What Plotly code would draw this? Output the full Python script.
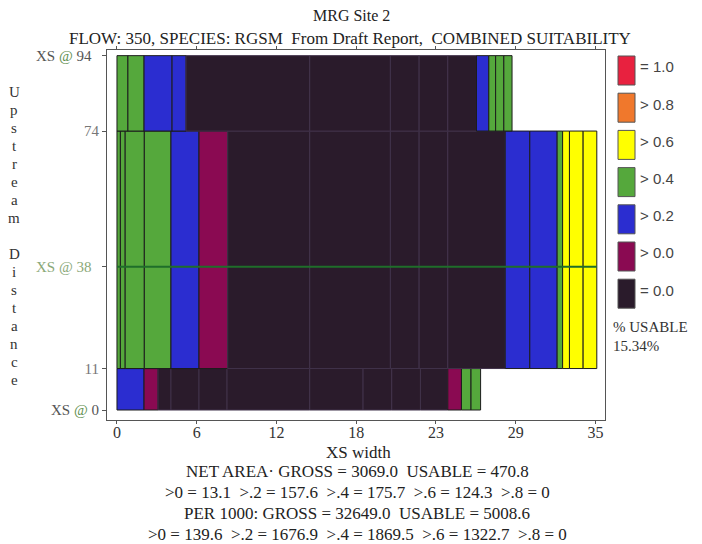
import plotly.graph_objects as go

# Suitability classes and their fill colours
classes = ["=1.0", ">0.8", ">0.6", ">0.4", ">0.2", ">0.0", "=0.0"]
class_colors = {
    "=1.0": "#e8213f",
    ">0.8": "#f0782c",
    ">0.6": "#ffff00",
    ">0.4": "#55a83c",
    ">0.2": "#2b2dd0",
    ">0.0": "#8a0a52",
    "=0.0": "#2a1b2b",
}
legend_labels = ["= 1.0", "> 0.8", "> 0.6", "> 0.4", "> 0.2", "> 0.0", "= 0.0"]

# Upstream bands (distance from, to)
bottom_band = (0, 11)
middle_band = (11, 74)
top_band = (74, 94)

# Cell edges across the cross-section width for each band, with the class of each cell
bottom_edges = [0, 1.98, 3.0, 3.95, 6.0, 8.05, 14.1, 18.0, 20.1, 22.2, 24.2, 25.2, 25.9, 26.6]
bottom_class = [">0.2", ">0.0", "=0.0", "=0.0", "=0.0", "=0.0", "=0.0", "=0.0", "=0.0",
                "=0.0", ">0.0", ">0.4", ">0.4"]

middle_edges = [0, 0.25, 0.6, 2.0, 3.95, 6.0, 8.1, 14.1, 20.0, 22.1, 24.2, 28.4, 30.2,
                32.2, 32.6, 33.1, 34.1, 35.1]
middle_class = [">0.4", ">0.4", ">0.4", ">0.4", ">0.2", ">0.0", "=0.0", "=0.0", "=0.0",
                "=0.0", "=0.0", ">0.2", ">0.2", ">0.4", ">0.6", ">0.6", ">0.6"]

top_edges = [0, 0.8, 1.98, 4.03, 5.05, 14.1, 20.0, 22.1, 24.2, 26.3, 27.2, 27.7, 28.3, 28.9]
top_class = [">0.4", ">0.4", ">0.2", ">0.2", "=0.0", "=0.0", "=0.0", "=0.0", "=0.0",
             ">0.2", ">0.4", ">0.4", ">0.4"]

# Cross-section marker line inside the middle band
xs_line_y = 38
xs_line_x = [0, 35.1]

# Axis ticks
x_tickvals = [0, 35 / 6, 70 / 6, 17.5, 140 / 6, 175 / 6, 35]
x_ticktext = ["0", "6", "12", "18", "23", "29", "35"]
y_tickvals = [0, 11, 38, 74, 94]
y_ticktext = [
    "XS <span style='color:#5f8f4f'>@</span> 0",
    "<span style='color:#777'>11</span>",
    "<span style='color:#8aa878'>XS @ 38</span>&nbsp;&nbsp;",
    "<span style='color:#777'>74</span>",
    "XS <span style='color:#5f8f4f'>@</span> 94&nbsp;&nbsp;",
]

title_text = "MRG Site 2"
subtitle_text = "FLOW: 350, SPECIES: RGSM  From Draft Report,  COMBINED SUITABILITY"
side_text = "Upstream Distance"
usable_pct = "15.34%"
summary_lines = [
    "NET AREA· GROSS = 3069.0  USABLE = 470.8",
    ">0 = 13.1  >.2 = 157.6  >.4 = 175.7  >.6 = 124.3  >.8 = 0",
    "PER 1000: GROSS = 32649.0  USABLE = 5008.6",
    ">0 = 139.6  >.2 = 1676.9  >.4 = 1869.5  >.6 = 1322.7  >.8 = 0",
]

SERIF = "Liberation Serif"
SANS = "Liberation Sans"

W, H = 702, 544
ML, MR, MT, MB = 107, 97, 50, 124


def px(xp):
    return (xp - ML) / (W - ML - MR)


def py(yp):
    return (H - MB - yp) / (H - MT - MB)


fig = go.Figure()


def band_trace(band, edges, cls):
    lo, hi = band
    lefts = edges[:-1]
    widths = [b - a for a, b in zip(edges[:-1], edges[1:])]
    colors = [class_colors[c] for c in cls]
    lines = ["#40324a" if c == "=0.0" else "#1c1c1c" for c in cls]
    return go.Bar(
        orientation="h",
        y=[(lo + hi) / 2] * len(widths),
        x=widths,
        base=lefts,
        width=[hi - lo] * len(widths),
        marker=dict(color=colors, line=dict(color=lines, width=1)),
        showlegend=False,
        hoverinfo="skip",
    )


fig.add_trace(band_trace(bottom_band, bottom_edges, bottom_class))
fig.add_trace(band_trace(middle_band, middle_edges, middle_class))
fig.add_trace(band_trace(top_band, top_edges, top_class))

fig.add_trace(go.Scatter(
    x=xs_line_x, y=[xs_line_y, xs_line_y], mode="lines",
    line=dict(color="#1f6e2a", width=2), showlegend=False, hoverinfo="skip",
))

fig.update_layout(
    width=W, height=H,
    margin=dict(l=ML, r=MR, t=MT, b=MB),
    paper_bgcolor="white", plot_bgcolor="white",
    barmode="overlay",
    font=dict(family=SERIF, size=14, color="#333"),
    xaxis=dict(
        range=[-0.73, 35.7], tickvals=x_tickvals, ticktext=x_ticktext,
        showgrid=False, zeroline=False, showline=True, linecolor="#555", linewidth=1,
        mirror="ticks", ticks="outside", ticklen=3, tickcolor="#555",
        ticklabelstandoff=-5,
        tickfont=dict(family=SERIF, size=16, color="#333"),
    ),
    yaxis=dict(
        range=[-2.65, 95.5], tickvals=y_tickvals, ticktext=y_ticktext,
        showgrid=False, zeroline=False, showline=True, linecolor="#555", linewidth=1,
        mirror=True, ticks="outside", ticklen=4, tickcolor="#555",
        tickfont=dict(family=SERIF, size=15, color="#555"),
    ),
)

ann = []
ann.append(dict(text=title_text, x=px(351), y=py(15), xref="paper", yref="paper",
                showarrow=False, xanchor="center", yanchor="middle",
                font=dict(family=SERIF, size=16, color="#222")))
ann.append(dict(text=subtitle_text, x=px(350), y=py(38), xref="paper", yref="paper",
                showarrow=False, xanchor="center", yanchor="middle",
                font=dict(family=SERIF, size=17, color="#222")))

ann.append(dict(text="XS width", x=px(358), y=py(452), xref="paper", yref="paper",
                showarrow=False, xanchor="center", yanchor="middle",
                font=dict(family=SERIF, size=17, color="#222")))
for i, line in enumerate(summary_lines):
    ann.append(dict(text=line, x=px(357), y=py(471 + i * 21), xref="paper", yref="paper",
                    showarrow=False, xanchor="center", yanchor="middle",
                    font=dict(family=SERIF, size=17, color="#222")))

# Vertical axis caption, one letter per line
for i, ch in enumerate(side_text):
    if ch == " ":
        continue
    ann.append(dict(text=ch, x=px(14), y=py(92 + i * 18), xref="paper", yref="paper",
                    showarrow=False, xanchor="center", yanchor="middle",
                    font=dict(family=SERIF, size=15, color="#333")))

# Colour key on the right
shapes = []
for i, (c, lab) in enumerate(zip(classes, legend_labels)):
    top = 56 + i * 37.2
    shapes.append(dict(type="rect", xref="paper", yref="paper",
                       x0=px(618), x1=px(635), y0=py(top + 29), y1=py(top),
                       fillcolor=class_colors[c], line=dict(color="#555", width=1)))
    ann.append(dict(text=lab, x=px(638), y=py(top + 11), xref="paper", yref="paper",
                    showarrow=False, xanchor="left", yanchor="middle",
                    font=dict(family=SANS, size=15, color="#444")))

ann.append(dict(text="% USABLE", x=px(611), y=py(327), xref="paper", yref="paper",
                showarrow=False, xanchor="left", yanchor="middle",
                font=dict(family=SERIF, size=15, color="#333")))
ann.append(dict(text=usable_pct, x=px(611), y=py(346), xref="paper", yref="paper",
                showarrow=False, xanchor="left", yanchor="middle",
                font=dict(family=SERIF, size=15, color="#333")))

fig.update_layout(annotations=ann, shapes=shapes)

fig.write_html("out.html")
